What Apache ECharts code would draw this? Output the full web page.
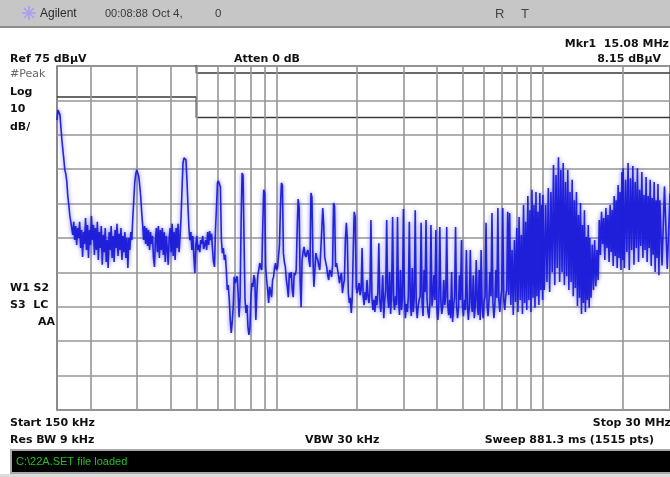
<!DOCTYPE html>
<html>
<head>
<meta charset="utf-8">
<script src="https://cdn.jsdelivr.net/npm/echarts/dist/echarts.min.js"></script>
<style>
html,body{margin:0;padding:0;background:#fff;}
#chart{width:670px;height:477px;}
</style>
</head>
<body>
<div id="chart"></div>
<script>
// ---- data (frequency in MHz, level in dBuV) ----
var freqGridMHz = [0.2,0.3,0.4,0.5,0.6,0.7,0.8,0.9,1,2,3,4,5,6,7,8,9,10,20];
var qpLimit = [[0.15,79],[0.5,79],[0.5,73],[30,73]];
var avgLimit = [[0.15,66],[0.5,66],[0.5,60],[30,60]];

var traceA = [[0.1500,59.3],[0.1513,62.2],[0.1526,62.5],[0.1539,60.8],[0.1552,57.0],[0.1565,53.5],[0.1578,50.6],[0.1592,47.7],[0.1605,44.8],[0.1619,43.6],[0.1633,41.3],[0.1647,37.2],[0.1661,34.6],[0.1675,31.7],[0.1690,29.7],
[0.1704,30.2],[0.1719,25.9],[0.1733,29.7],[0.1748,24.4],[0.1763,28.5],[0.1778,23.0],[0.1793,27.9],[0.1808,25.0],[0.1824,29.7],[0.1840,22.1],
[0.1855,27.3],[0.1871,19.5],[0.1887,26.7],[0.1903,23.3],[0.1920,30.8],[0.1936,21.5],[0.1953,28.8],[0.1969,19.2],[0.1986,27.3],[0.2003,23.0],
[0.2020,31.4],[0.2037,24.4],[0.2055,28.8],[0.2072,20.1],[0.2090,27.9],[0.2108,21.5],[0.2126,29.7],[0.2144,18.6],[0.2162,26.7],[0.2181,22.1],
[0.2199,28.5],[0.2218,17.2],[0.2237,25.9],[0.2256,20.9],[0.2276,27.9],[0.2295,18.0],[0.2315,24.4],[0.2334,16.3],[0.2354,26.7],[0.2374,21.5],
[0.2395,28.5],[0.2415,19.2],[0.2436,25.6],[0.2457,18.0],[0.2478,27.3],[0.2499,22.1],[0.2520,29.1],[0.2542,19.8],[0.2564,26.2],[0.2586,21.5],
[0.2608,27.9],[0.2630,18.6],[0.2652,25.6],[0.2675,20.9],[0.2698,26.7],[0.2721,19.2],[0.2744,25.0],[0.2768,16.3],[0.2791,25.0],[0.2815,21.5],
[0.2839,26.7],[0.2864,24.4],[0.2888,30.8],[0.2913,36.0],[0.2938,41.3],[0.2963,43.6],[0.2988,44.8],[0.3014,44.5],[0.3039,43.0],[0.3065,40.4],
[0.3092,37.2],[0.3118,32.6],[0.3145,28.8],[0.3172,24.4],[0.3199,28.5],[0.3226,23.3],[0.3254,27.9],[0.3281,22.7],[0.3309,27.3],[0.3338,21.5],
[0.3366,26.7],[0.3395,23.3],[0.3424,25.6],[0.3453,19.2],[0.3483,16.6],[0.3512,24.4],[0.3542,27.9],[0.3572,20.9],[0.3603,28.5],[0.3634,19.2],
[0.3665,27.3],[0.3696,21.5],[0.3728,27.9],[0.3759,20.1],[0.3792,26.7],[0.3824,18.0],[0.3857,25.6],[0.3889,22.1],[0.3923,17.2],[0.3956,25.0],
[0.3990,27.9],[0.4024,20.9],[0.4058,29.1],[0.4093,19.8],[0.4128,26.7],[0.4164,18.6],[0.4199,27.9],[0.4235,22.1],[0.4271,29.1],[0.4308,20.9],
[0.4345,25.6],[0.4382,30.8],[0.4419,39.0],[0.4457,46.8],[0.4495,48.3],[0.4534,48.5],[0.4573,47.7],[0.4612,41.9],[0.4651,34.6],[0.4691,27.9],
[0.4731,24.4],[0.4771,26.7],[0.4812,21.5],[0.4853,25.6],[0.4895,19.8],[0.4937,14.8],[0.4979,22.7],[0.5022,25.6]];

var traceB = [[0.5065,21.5],[0.5108,23.0],[0.5152,20.9],[0.5196,24.4],[0.5240,23.3],[0.5285,25.6],[0.5330,21.8],[0.5375,22.1],[0.5421,24.4],[0.5467,21.5],
[0.5514,26.7],[0.5561,23.0],[0.5609,27.0],[0.5657,24.4],[0.5705,26.2],[0.5754,21.5],[0.5803,18.0],[0.5852,16.6],[0.5902,27.3],[0.5953,34.0],
[0.6004,41.0],[0.6055,41.6],[0.6107,41.3],[0.6159,39.8],[0.6211,24.4],[0.6264,20.6],[0.6318,22.1],[0.6372,18.6],[0.6426,20.1],[0.6481,15.7],
[0.6537,9.9],[0.6592,11.3],[0.6649,7.0],[0.6706,1.2],[0.6763,-2.6],[0.6821,0.6],[0.6879,4.9],[0.6938,13.7],[0.6997,11.9],[0.7057,12.2],
[0.7117,13.9],[0.7178,9.0],[0.7239,2.0],[0.7301,7.8],[0.7364,29.4],[0.7427,43.9],[0.7490,43.3],[0.7554,24.4],[0.7619,7.0],[0.7684,3.2],
[0.7749,5.5],[0.7815,-0.9],[0.7882,-3.2],[0.7949,-0.9],[0.8017,7.8],[0.8086,11.9],[0.8155,10.8],[0.8225,14.2],[0.8295,12.8],[0.8366,1.2],
[0.8437,9.0],[0.8509,14.2],[0.8582,15.7],[0.8655,17.7],[0.8729,16.3],[0.8804,15.7],[0.8879,28.2],[0.8955,39.0],[0.9031,38.1],[0.9108,16.6],
[0.9186,12.8],[0.9265,9.9],[0.9344,6.1],[0.9424,10.8],[0.9504,9.3],[0.9585,7.8],[0.9667,12.8],[0.9750,13.7],[0.9833,16.3],[0.9917,17.7],
[1.0002,15.7],[1.0087,16.3],[1.0173,19.5],[1.0260,23.0],[1.0348,34.0],[1.0436,41.0],[1.0525,40.4],[1.0615,20.6],[1.0706,18.0],[1.0797,16.6],
[1.0889,12.8],[1.0982,10.8],[1.1076,7.8],[1.1171,14.8],[1.1266,13.4],[1.1362,15.1],[1.1459,9.9],[1.1557,7.8],[1.1656,14.8],[1.1755,14.2],
[1.1856,15.7],[1.1957,27.3],[1.2059,36.3],[1.2162,34.0],[1.2266,12.8],[1.2371,4.9],[1.2476,18.6],[1.2583,20.9],[1.2691,22.4],[1.2799,20.1],
[1.2909,19.5],[1.3019,20.9],[1.3130,21.5],[1.3242,18.6],[1.3355,16.6],[1.3469,38.1],[1.3584,36.9],[1.3700,19.5],[1.3817,10.8],[1.3935,15.7],
[1.4054,20.6],[1.4174,19.2],[1.4295,18.6],[1.4417,16.9],[1.4540,15.7],[1.4665,21.5],[1.4790,27.3],[1.4916,33.7],[1.5043,28.8],[1.5172,19.5],
[1.5302,18.0],[1.5432,16.6],[1.5564,14.2],[1.5697,12.8],[1.5831,15.7],[1.5966,15.1],[1.6102,13.7],[1.6240,17.2],[1.6379,35.2],[1.6518,34.3],
[1.6659,16.6],[1.6802,17.7],[1.6945,17.2],[1.7090,14.2],[1.7236,11.9],[1.7383,13.7],[1.7531,14.8],[1.7681,9.0],[1.7832,11.3],[1.7984,12.8],
[1.8138,24.4],[1.8293,29.4],[1.8449,24.4],[1.8606,9.0],[1.8765,6.1],[1.8925,7.6],[1.9087,3.2],[1.9250,7.8],[1.9414,21.5],[1.9580,32.6],
[1.9747,31.1],[1.9916,10.8],[2.0086,9.0],[2.0257,10.5],[2.0430,11.9],[2.0605,8.4]];

var traceC = [[2.0781,9.9],[2.0958,22.1],[2.1137,8.4],[2.1317,5.5],[2.1499,9.3],[2.1683,7.0],[2.1868,12.8],[2.2055,8.1],[2.2243,6.1],[2.2433,9.9],
[2.2624,30.2],[2.2818,7.6],[2.3013,4.1],[2.3209,7.0],[2.3407,3.5],[2.3607,8.1],[2.3809,5.5],[2.4012,9.3],[2.4217,23.5],[2.4424,7.0],
[2.4632,3.5],[2.4843,7.6],[2.5055,14.2],[2.5269,1.7],[2.5485,7.0],[2.5702,9.9],[2.5922,30.2],[2.6143,8.1],[2.6366,4.7],[2.6592,15.1],
[2.6819,2.9],[2.7048,9.3],[2.7279,31.1],[2.7512,7.0],[2.7747,4.1],[2.7984,8.1],[2.8223,5.5],[2.8464,31.1],[2.8707,7.6],[2.8952,2.6],
[2.9199,15.7],[2.9449,4.1],[2.9700,7.6],[2.9954,33.4],[3.0210,8.4],[3.0468,1.7],[3.0728,5.8],[3.0990,3.5],[3.1255,8.1],[3.1522,29.7],
[3.1791,7.0],[3.2063,2.3],[3.2337,16.3],[3.2613,3.5],[3.2891,7.6],[3.3172,33.1],[3.3455,6.4],[3.3741,1.7],[3.4029,5.2],[3.4320,7.0],
[3.4613,8.1],[3.4908,29.4],[3.5206,5.8],[3.5507,2.3],[3.5810,15.7],[3.6116,9.3],[3.6424,30.2],[3.6735,7.0],[3.7049,3.5],[3.7365,1.7],
[3.7684,6.4],[3.8006,28.8],[3.8331,5.2],[3.8658,8.1],[3.8988,14.2],[3.9321,7.0],[3.9657,27.3],[3.9996,4.7],[4.0337,1.2],[4.0682,6.4],
[4.1029,28.2],[4.1380,7.0],[4.1733,2.9],[4.2089,5.2],[4.2449,12.8],[4.2811,5.5],[4.3177,8.1],[4.3546,28.2],[4.3917,5.8],[4.4292,2.6],
[4.4671,7.0],[4.5052,1.7],[4.5437,15.1],[4.5825,0.6],[4.6216,5.5],[4.6611,7.6],[4.7009,28.2],[4.7410,5.5],[4.7815,1.7],[4.8223,4.7],
[4.8635,14.2],[4.9050,7.0],[4.9469,24.4],[4.9892,5.5],[5.0318,2.3],[5.0747,7.0],[5.1181,4.1],[5.1618,21.5],[5.2058,5.8],[5.2503,1.2],
[5.2951,5.2],[5.3403,21.5],[5.3859,6.4],[5.4319,3.5],[5.4783,14.2],[5.5251,1.7],[5.5723,5.2],[5.6198,18.6],[5.6678,7.0],[5.7162,2.6],
[5.7650,15.7],[5.8143,1.2],[5.8639,21.5],[5.9140,5.2],[5.9645,1.7],[6.0154,6.4],[6.0668,8.1],[6.1186,29.4],[6.1708,5.8],[6.2235,2.3],
[6.2767,7.0],[6.3303,15.1],[6.3843,8.1],[6.4388,32.3],[6.4938,6.4],[6.5493,1.7],[6.6052,5.8],[6.6616,15.7],[6.7185,7.6],[6.7758,33.7],
[6.8337,7.0],[6.8920,3.5],[6.9509,7.6],[7.0102,9.9],[7.0701,33.7],[7.1305,7.0],[7.1914,4.1],[7.2528,8.1],[7.3147,9.9],[7.3772,32.6],[7.4402,8.4]];

var traceD = [[7.50,32.3],[7.58,5.5],[7.66,21.5],[7.74,2.6],[7.82,24.4],[7.90,6.4],[7.98,27.9],[8.06,3.5],[8.14,31.1],[8.22,7.0],
[8.30,25.9],[8.38,2.9],[8.46,34.6],[8.54,6.1],[8.62,29.7],[8.70,4.1],[8.78,37.2],[8.86,7.0],[8.94,33.1],[9.02,3.5],
[9.10,39.0],[9.18,7.6],[9.26,34.6],[9.34,4.7],[9.42,38.4],[9.50,8.1],[9.58,32.6],[9.66,5.5],[9.74,38.1],[9.82,9.9],
[9.90,34.6],[9.98,7.0],[10.00,37.5],[10.12,9.9],[10.24,34.6],[10.36,12.2],[10.48,39.5],[10.60,9.3],[10.72,38.4],[10.84,15.1],
[10.96,46.2],[11.08,11.3],[11.20,43.3],[11.32,16.3],[11.44,48.5],[11.56,12.2],[11.68,44.8],[11.80,15.1],[11.92,46.8],[12.04,11.3],
[12.16,41.3],[12.28,13.9],[12.40,44.8],[12.52,9.9],[12.64,38.4],[12.76,12.2],[12.88,41.9],[13.00,8.1],[13.12,36.0],[13.24,10.5],
[13.36,38.4],[13.48,5.2],[13.60,31.7],[13.72,7.6],[13.84,35.2],[13.96,2.9],[14.08,28.8],[14.20,6.1],[14.32,33.1],[14.44,3.5],
[14.56,25.3],[14.68,7.0],[14.80,28.8],[14.92,4.7],[15.00,25.0],[15.16,7.6],[15.32,23.0],[15.48,9.9],[15.64,24.4],[15.80,11.0],
[15.96,21.5],[16.12,12.8],[16.28,30.2],[16.44,20.1],[16.60,32.6],[16.76,23.3],[16.92,30.8],[17.08,18.6],[17.24,33.7],[17.40,22.1],
[17.56,31.7],[17.72,18.0],[17.88,34.6],[18.04,20.9],[18.20,33.1],[18.36,16.9],[18.52,37.2],[18.68,19.8],[18.84,36.0],[19.00,16.3],
[19.16,40.4],[19.32,19.2],[19.48,38.4],[19.64,15.7],[19.80,44.2],[19.96,18.6],[20.00,45.3],[20.22,16.3],[20.44,41.9],[20.66,20.9],
[20.88,46.8],[21.10,15.7],[21.32,42.4],[21.54,21.5],[21.76,45.9],[21.98,17.2],[22.20,41.3],[22.42,22.1],[22.64,45.3],[22.86,18.0],
[23.08,39.0],[23.30,22.7],[23.52,44.2],[23.74,19.2],[23.96,37.5],[24.18,21.5],[24.40,42.7],[24.62,18.0],[24.84,37.2],[25.06,22.1],
[25.28,41.9],[25.50,16.9],[25.72,36.6],[25.94,20.1],[26.16,41.3],[26.38,15.1],[26.60,36.0],[26.82,19.2],[27.04,40.7],[27.26,14.2],
[27.48,36.0],[28.00,17.0],[28.60,40.0],[29.30,16.0],[30.00,38.0]];

var headerTexts = {agilent:'Agilent', clock:'00:08:88', date:'Oct 4,', zero:'0', r:'R', t:'T'};
var statusText = 'C:\\22A.SET file loaded';

var trace = traceA.concat(traceB, traceC, traceD);

// ---- chart ----
var chart = echarts.init(document.getElementById('chart'), null, {renderer:'canvas'});
var BOLD = 'bold 11px "DejaVu Sans"';
function txt(text, x, y, opts){
  opts = opts || {};
  var a = opts.align || 'left';
  return {type:'text', silent:true, z:10, style:{text:text, x:x, y:y, font:opts.font||BOLD, fill:opts.fill||'#111',
    align:a, textAlign:a, verticalAlign:'middle', textVerticalAlign:'middle'}};
}
var graphics = [
  {type:'rect', silent:true, shape:{x:0,y:0,width:670,height:27}, style:{fill:'#c6c6c6'}},
  {type:'rect', silent:true, shape:{x:0,y:26,width:670,height:2}, style:{fill:'#8c8c8c'}},
  txt(headerTexts.agilent, 40, 14, {font:'12px "Liberation Sans"', fill:'#2a2a2a'}),
  txt(headerTexts.clock, 105, 14, {font:'11px "Liberation Sans"', fill:'#3a3a3a'}),
  txt(headerTexts.date, 152, 14, {font:'11.5px "Liberation Sans"', fill:'#3a3a3a'}),
  txt(headerTexts.zero, 215, 14, {font:'11.5px "Liberation Sans"', fill:'#3a3a3a'}),
  txt(headerTexts.r, 495, 14, {font:'13px "Liberation Sans"', fill:'#454545'}),
  txt(headerTexts.t, 521, 14, {font:'13px "Liberation Sans"', fill:'#454545'}),
  txt('Mkr1  15.08 MHz', 669, 44, {align:'right'}),
  txt('Ref 75 dB\u00b5V', 10, 59),
  txt('Atten 0 dB', 234, 59),
  txt('8.15 dB\u00b5V', 661, 59, {align:'right'}),
  txt('#Peak', 10, 74, {font:'11px "DejaVu Sans"', fill:'#666'}),
  txt('Log', 10, 92),
  txt('10', 10, 109),
  txt('dB/', 10, 127),
  txt('W1 S2', 10, 288),
  txt('S3  LC', 10, 305),
  txt('AA', 55, 322, {align:'right'}),
  txt('Start 150 kHz', 10, 423),
  txt('Res BW 9 kHz', 10, 440),
  txt('VBW 30 kHz', 305, 440),
  txt('Stop 30 MHz', 671, 423, {align:'right'}),
  txt('Sweep 881.3 ms (1515 pts)', 654, 440, {align:'right'}),
  {type:'rect', silent:true, shape:{x:10,y:449,width:662,height:25}, style:{fill:'#a9a9a9'}},
  {type:'rect', silent:true, shape:{x:12,y:451,width:660,height:21}, style:{fill:'#000'}},
  {type:'rect', silent:true, shape:{x:0,y:474,width:670,height:3}, style:{fill:'#dcdcdc'}},
  txt(statusText, 16, 462, {font:'11px "Liberation Sans"', fill:'#22c022'})
];
// starburst logo
[[0,7],[7,0],[5,5],[5,-5]].forEach(function(d){
  graphics.push({type:'line', silent:true, shape:{x1:29-d[0],y1:13-d[1],x2:29+d[0],y2:13+d[1]}, style:{stroke:'#a99ef2', lineWidth:1.6}});
});

var option = {
  animation:false,
  backgroundColor:'#ffffff',
  grid:{left:57, top:66, width:623, height:344, show:true, borderColor:'#666', borderWidth:1.5, backgroundColor:'#fff'},
  xAxis:{type:'log', logBase:10, min:0.15, max:30, axisLine:{show:false}, axisTick:{show:false}, axisLabel:{show:false}, splitLine:{show:false}},
  yAxis:{type:'value', min:-25, max:75, interval:10, axisLine:{show:false}, axisTick:{show:false}, axisLabel:{show:false},
    splitLine:{show:true, lineStyle:{color:'#969696', width:1.6}}},
  series:[
    {type:'line', data:qpLimit, symbol:'none', silent:true, clip:true, z:3,
      lineStyle:{color:'#3a3a3a', width:1.5},
      markLine:{silent:true, symbol:'none', label:{show:false}, animation:false,
        lineStyle:{color:'#969696', width:1.6, type:'solid'},
        data:freqGridMHz.map(function(f){return {xAxis:f};})}},
    {type:'line', data:avgLimit, symbol:'none', silent:true, clip:true, z:3, lineStyle:{color:'#3a3a3a', width:1.5}},
    {type:'line', data:trace, symbol:'none', silent:true, clip:true, z:5, sampling:null,
      lineStyle:{color:'#1a1ad8', width:1.6, opacity:0.95, join:'bevel',
        shadowColor:'rgba(70,70,235,0.75)', shadowBlur:4}}
  ],
  graphic:graphics
};
chart.setOption(option);
</script>
</body>
</html>
